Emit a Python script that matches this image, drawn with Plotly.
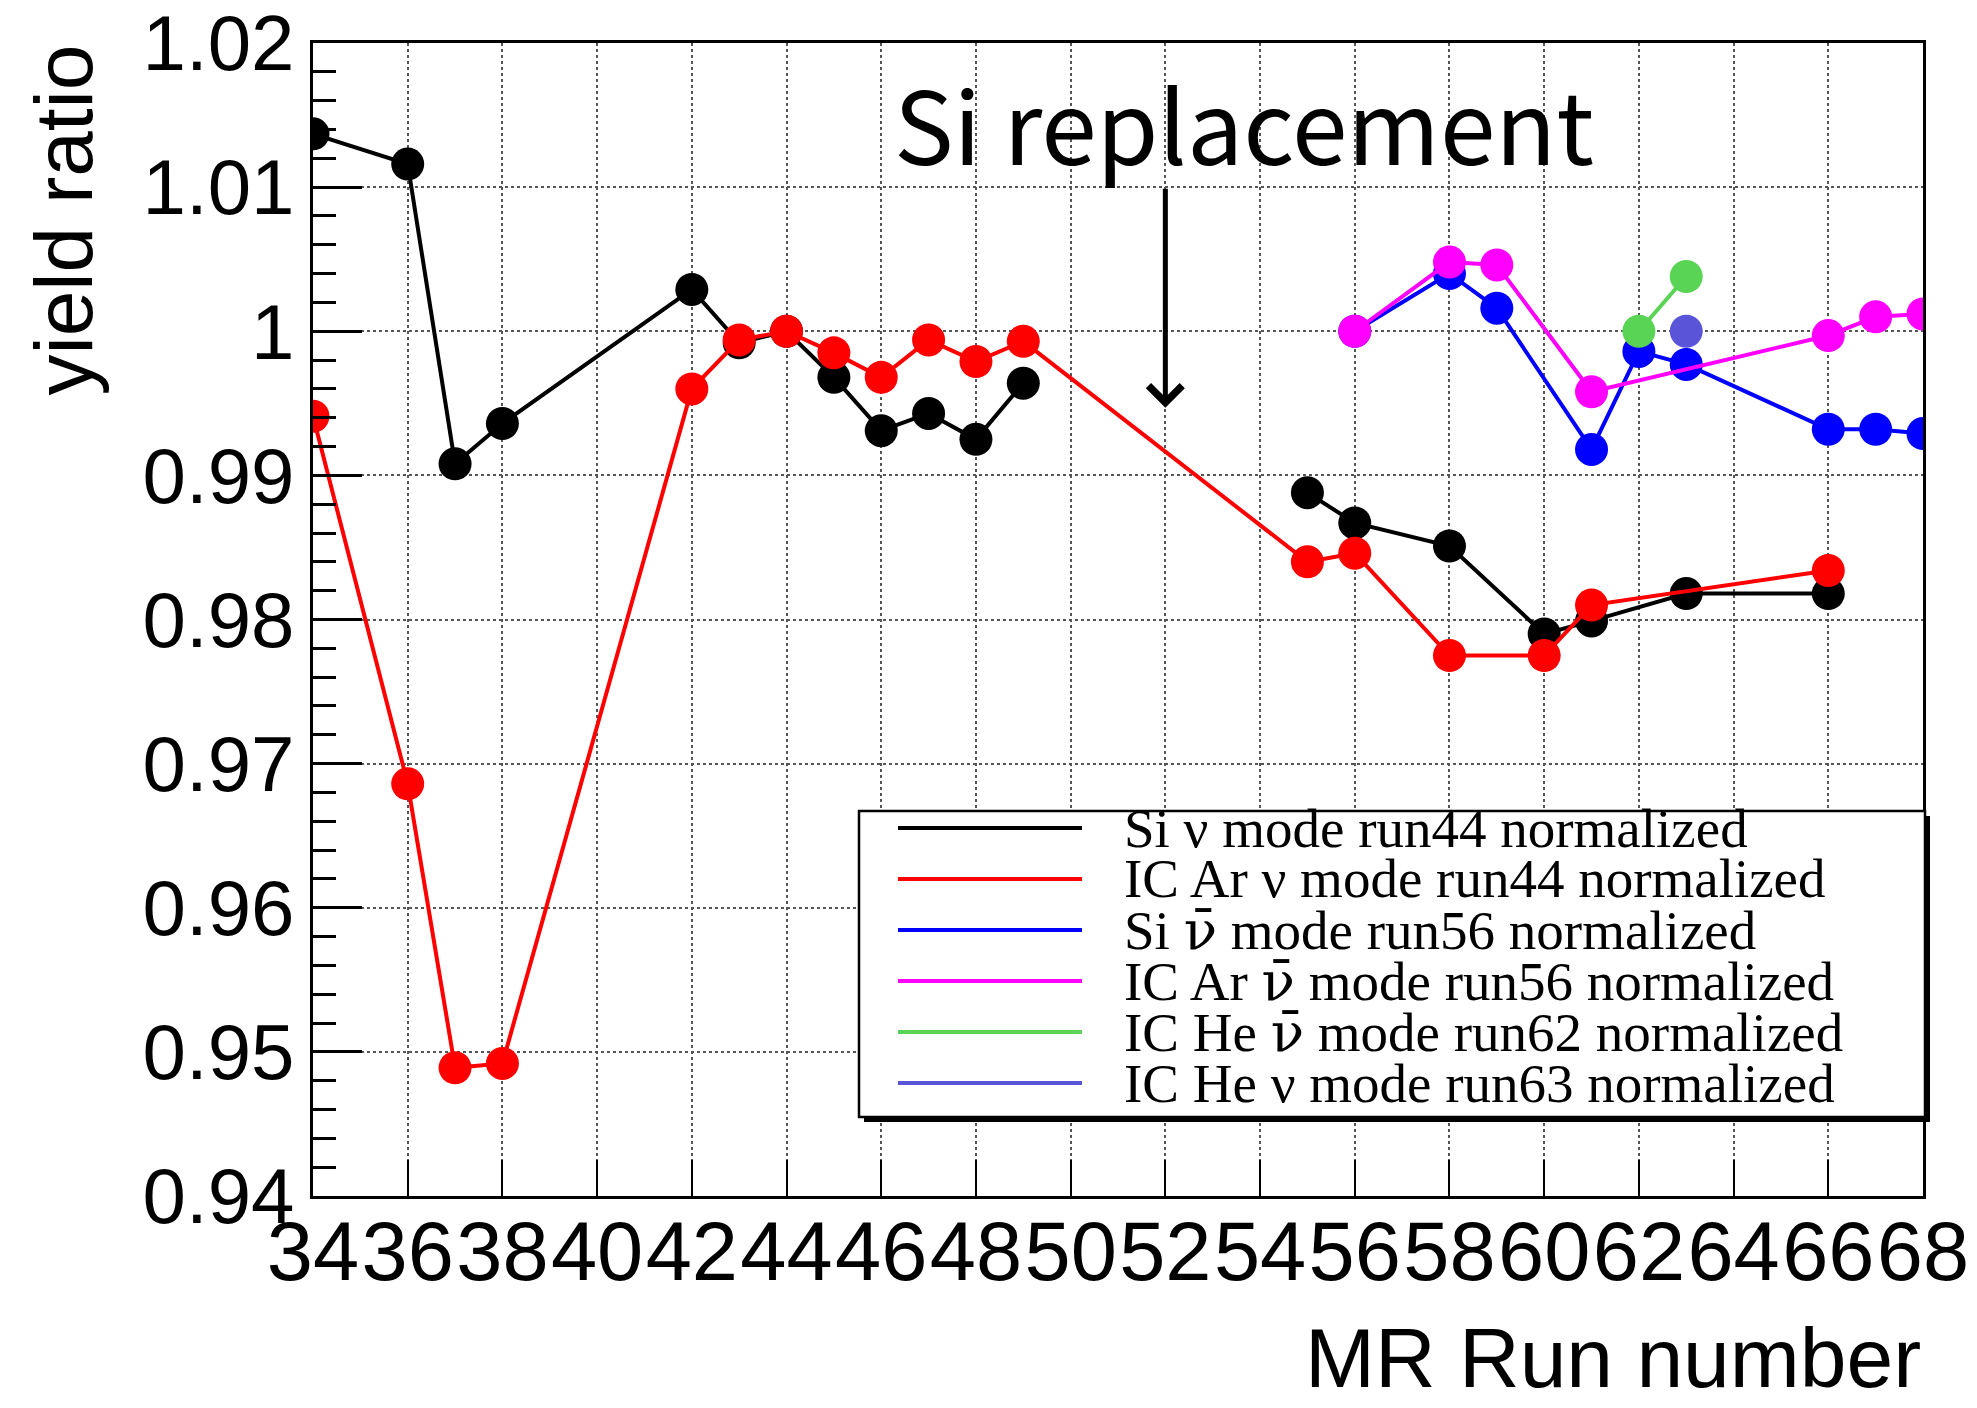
import plotly.graph_objects as go

# ---------------- data ----------------
# None marks the break in the Si nu-mode series (no line drawn between run 49 and 55)
si_nu_run = [34, 36, 37, 38, 42, 43, 44, 45, 46, 47, 48, 49, 52, 55, 56, 58, 60, 61, 63, 66]
si_nu_val = [1.0137, 1.0116, 0.9908, 0.9936, 1.0029, 0.9992, 1.0000, 0.9968, 0.9931, 0.9943,
             0.9925, 0.9964, None, 0.9888, 0.9867, 0.9851, 0.9790, 0.9799, 0.9818, 0.9818]

icar_nu_run = [34, 36, 37, 38, 42, 43, 44, 45, 46, 47, 48, 49, 55, 56, 58, 60, 61, 66]
icar_nu_val = [0.9941, 0.9686, 0.9489, 0.9492, 0.9960, 0.9994, 1.0000, 0.9985, 0.9968, 0.9994,
               0.9979, 0.9993, 0.9840, 0.9846, 0.9775, 0.9775, 0.9810, 0.9834]

si_nubar_run = [56, 58, 59, 61, 62, 63, 66, 67, 68]
si_nubar_val = [1.0000, 1.0040, 1.0016, 0.9918, 0.9986, 0.9977, 0.9932, 0.9932, 0.9929]

icar_nubar_run = [56, 58, 59, 61, 66, 67, 68]
icar_nubar_val = [1.0000, 1.0048, 1.0046, 0.9958, 0.9997, 1.0010, 1.0012]

iche_nubar_run = [62, 63]
iche_nubar_val = [1.0000, 1.0038]

iche_nu_run = [63]
iche_nu_val = [1.0000]

NU = "\u03bd"
NUBAR = '<span style="font-family:DejaVu Serif">\u03bd\u0304</span>'
series_names = [
    "Si \u03bd mode run44 normalized",
    "IC Ar \u03bd mode run44 normalized",
    "Si \u03bd\u0304 mode run56 normalized",
    "IC Ar \u03bd\u0304 mode run56 normalized",
    "IC He \u03bd\u0304 mode run62 normalized",
    "IC He \u03bd mode run63 normalized",
]
legend_labels = [
    "Si " + NU + " mode run44 normalized",
    "IC Ar " + NU + " mode run44 normalized",
    "Si " + NUBAR + " mode run56 normalized",
    "IC Ar " + NUBAR + " mode run56 normalized",
    "IC He " + NUBAR + " mode run62 normalized",
    "IC He " + NU + " mode run63 normalized",
]
series_colors = ["#000000", "#ff0000", "#0000ff", "#ff00ff", "#59d454", "#5954d8"]

x_tickvals = list(range(34, 69, 2))
x_ticktext = [str(v) for v in x_tickvals]
y_tickvals = [0.94, 0.95, 0.96, 0.97, 0.98, 0.99, 1.00, 1.01, 1.02]
y_ticktext = ["0.94", "0.95", "0.96", "0.97", "0.98", "0.99", "1", "1.01", "1.02"]

arrow_x = 52
arrow_y_start = 1.0100
arrow_y_end = 0.9947

# ---------------- figure ----------------
fig = go.Figure()
all_series = [
    (si_nu_run, si_nu_val),
    (icar_nu_run, icar_nu_val),
    (si_nubar_run, si_nubar_val),
    (icar_nubar_run, icar_nubar_val),
    (iche_nubar_run, iche_nubar_val),
    (iche_nu_run, iche_nu_val),
]
for (xs, ys), name, col in zip(all_series, series_names, series_colors):
    fig.add_trace(go.Scatter(
        x=xs, y=ys, name=name, mode="lines+markers",
        line=dict(color=col, width=4), connectgaps=False,
        marker=dict(color=col, size=33),
        showlegend=False,
    ))

L, R, T, B = 313, 54, 43, 212
W, H = 1977, 1408
pw, ph = W - L - R, H - T - B

grid = dict(showgrid=True, gridcolor="#555555", gridwidth=2, griddash="dot")
fig.update_xaxes(
    range=[34, 68], tickvals=x_tickvals, ticktext=x_ticktext, tickangle=0,
    ticks="inside", ticklen=36, tickwidth=2, tickcolor="black",
    showline=True, linecolor="black", linewidth=3, mirror=True,
    tickfont=dict(family="Liberation Sans, Arial", size=83, color="black"),
    zeroline=False, ticklabelstandoff=-19, ticklabeloverflow="allow", automargin=False, **grid,
)
fig.update_yaxes(
    range=[0.94, 1.02], tickvals=y_tickvals, ticktext=y_ticktext,
    ticks="inside", ticklen=49, tickwidth=3, tickcolor="black",
    minor=dict(ticks="inside", ticklen=23, tickwidth=3, tickcolor="black", dtick=0.002, showgrid=False),
    showline=True, linecolor="black", linewidth=3, mirror=True,
    tickfont=dict(family="Liberation Sans, Arial", size=78, color="black"),
    zeroline=False, ticklabelstandoff=0, ticklabeloverflow="allow", automargin=False, **grid,
)

annotations = []
shapes = []
# axis titles
annotations.append(dict(
    text="MR Run number", xref="paper", yref="paper", x=1.0, y=-(1407 - (H - B)) / ph,
    xanchor="right", yanchor="bottom", showarrow=False,
    font=dict(family="Liberation Sans, Arial", size=84, color="black")))
annotations.append(dict(
    text="yield ratio", xref="paper", yref="paper", x=-(L - 63) / pw, y=1.0,
    xanchor="center", yanchor="top", textangle=-90, showarrow=False,
    font=dict(family="Liberation Sans, Arial", size=82, color="black")))
# Si replacement label and arrow
annotations.append(dict(
    text="Si replacement", xref="paper", yref="paper", x=(1244 - L) / pw, y=1 - (122 - T) / ph,
    xanchor="center", yanchor="middle", showarrow=False,
    font=dict(family="Noto Sans CJK JP, Noto Sans", size=100, color="black")))
annotations.append(dict(
    text="", x=arrow_x, y=arrow_y_end, ax=arrow_x, ay=arrow_y_start,
    xref="x", yref="y", axref="x", ayref="y", showarrow=True,
    arrowhead=4, arrowsize=1.3, arrowwidth=5, arrowcolor="black"))

# custom legend
lx0, lx1 = (859 - L) / pw, (1925 - L) / pw
ly1, ly0 = (H - B - 811) / ph, (H - B - 1117) / ph
ox, oy = 5 / pw, 5 / ph
shapes.append(dict(type="rect", xref="paper", yref="paper", x0=lx0 + ox, x1=lx1 + ox,
                   y0=ly0 - oy, y1=ly1 - oy, fillcolor="black", line=dict(width=0), layer="above"))
shapes.append(dict(type="rect", xref="paper", yref="paper", x0=lx0, x1=lx1, y0=ly0, y1=ly1,
                   fillcolor="white", line=dict(color="black", width=2.5), layer="above"))
row_px = [828, 879, 930, 981, 1032, 1083]
sx0, sx1 = (898 - L) / pw, (1082 - L) / pw
tx = (1122 - L) / pw
for rp, label, col in zip(row_px, legend_labels, series_colors):
    yy = (H - B - rp) / ph
    shapes.append(dict(type="line", xref="paper", yref="paper", x0=sx0, x1=sx1, y0=yy, y1=yy,
                       line=dict(color=col, width=4), layer="above"))
    annotations.append(dict(
        text=label, xref="paper", yref="paper", x=tx, y=yy, xanchor="left", yanchor="middle",
        showarrow=False, font=dict(family="Liberation Serif, Times New Roman", size=55, color="black")))

fig.update_layout(
    width=W, height=H,
    margin=dict(l=L, r=R, t=T, b=B, autoexpand=False),
    paper_bgcolor="white", plot_bgcolor="white",
    annotations=annotations, shapes=shapes,
    showlegend=False,
)

fig.write_html("out.html")
